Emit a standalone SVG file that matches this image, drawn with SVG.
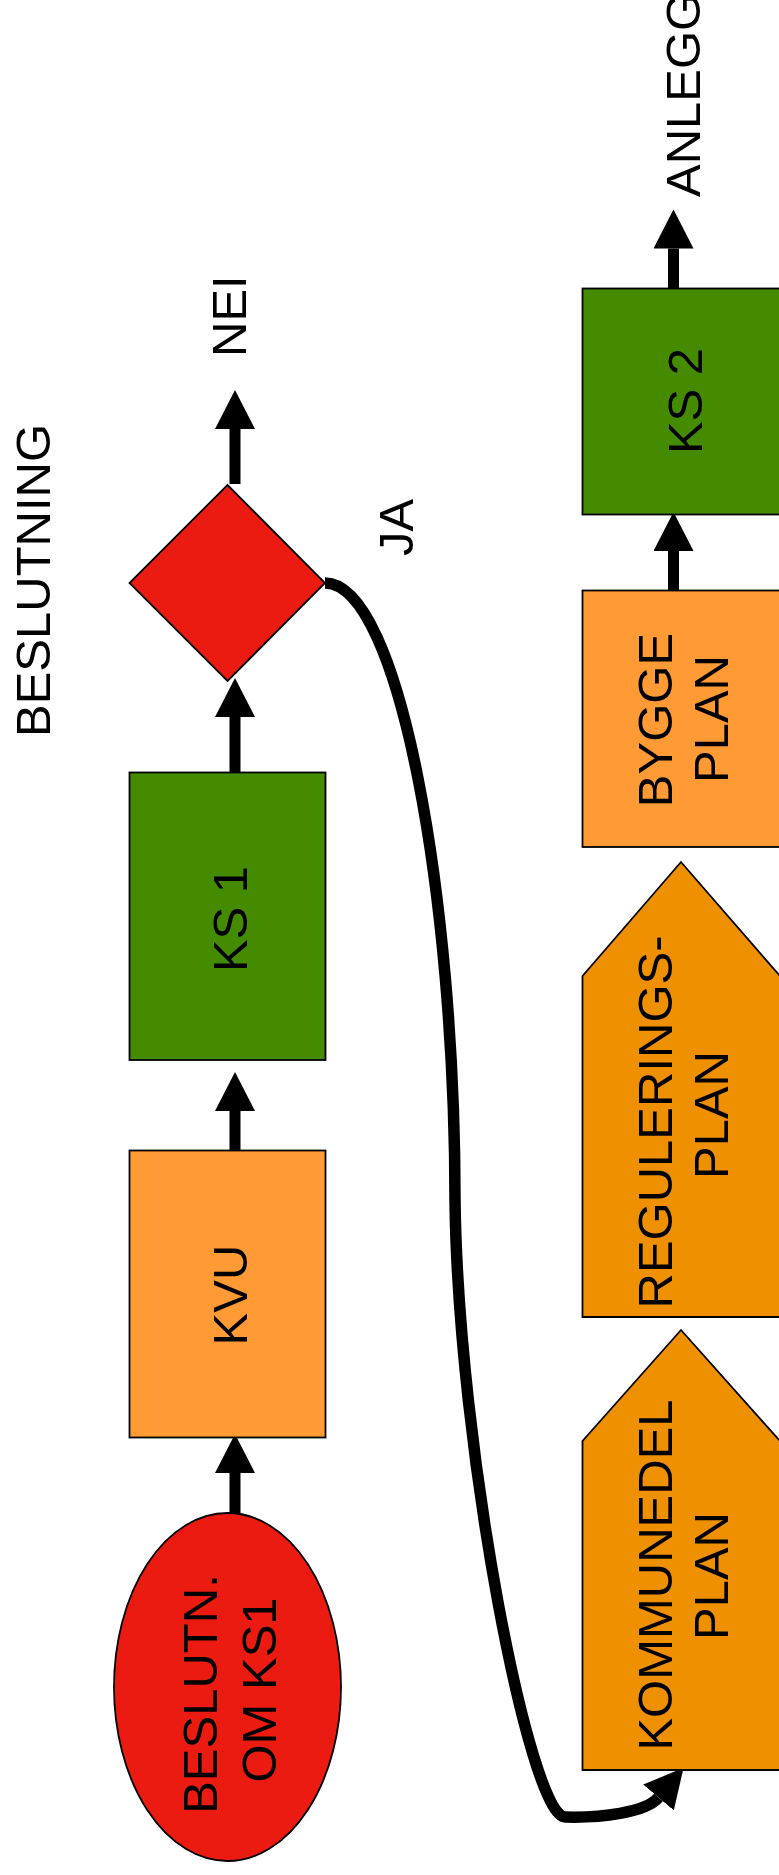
<svg xmlns="http://www.w3.org/2000/svg" width="779" height="1875" viewBox="0 0 779 1875">
<style>
.t{font-family:"Liberation Sans",Arial,sans-serif;font-size:49px;fill:#000}
.m{text-anchor:middle}
.box{stroke:#000;stroke-width:1.8}
.red{fill:#EC1B12}
.green{fill:#448B00}
.lor{fill:#FF9A35}
.dor{fill:#EF9000}
.shaft{fill:none;stroke:#000;stroke-width:11}
.curve{fill:none;stroke:#000;stroke-width:11.5}
</style>
<defs>
<marker id="ah" markerUnits="userSpaceOnUse" markerWidth="40" markerHeight="40" refX="0" refY="18" orient="auto" viewBox="0 0 36 36">
<path d="M0,0 L35,18 L0,36 Z" fill="#000"/>
</marker>
</defs>
<rect width="779" height="1875" fill="#fff"/>

<text class="t" transform="translate(50,737) rotate(-90)">BESLUTNING</text>
<text class="t" transform="translate(246,357) rotate(-90)">NEI</text>
<text class="t" transform="translate(413,556) rotate(-90)">JA</text>
<text class="t" transform="translate(700,197) rotate(-90)">ANLEGG</text>

<g id="connectors">
<path class="shaft" d="M235,1513 L235,1473" marker-end="url(#ah)"/>
<path class="shaft" d="M235,1150 L235,1111" marker-end="url(#ah)"/>
<path class="shaft" d="M235,772 L235,717" marker-end="url(#ah)"/>
<path class="shaft" d="M235,484 L235,429" marker-end="url(#ah)"/>
<path class="shaft" d="M673.5,590 L673.5,551" marker-end="url(#ah)"/>
<path class="shaft" d="M673.5,288 L673.5,248.5" marker-end="url(#ah)"/>
<path class="curve" d="M325,583 C400,583 455,900 455,1200 C458,1450 530,1817 565,1817 C600,1818 645.6,1812.8 658.5,1797.5" marker-end="url(#ah)"/>
</g>

<g id="n-beslutn">
<ellipse class="box red" cx="227.5" cy="1687" rx="113.5" ry="174"/>
<text class="t m" transform="translate(217,1694) rotate(-90)">BESLUTN.</text>
<text class="t m" transform="translate(276,1690) rotate(-90)">OM KS1</text>
</g>

<g id="n-kvu">
<rect class="box lor" x="129.5" y="1150.5" width="196" height="287"/>
<text class="t m" transform="translate(247,1295) rotate(-90)">KVU</text>
</g>

<g id="n-ks1">
<rect class="box green" x="129.5" y="772.5" width="196" height="287.5"/>
<text class="t m" transform="translate(247,919) rotate(-90)">KS 1</text>
</g>

<g id="n-decision">
<polygon class="box red" points="227.5,485 325,583 227.5,681 129.5,583"/>
</g>

<g id="n-kommunedel">
<polygon class="box dor" points="582.5,1770 582.5,1441 681,1330 780,1441 780,1770"/>
<text class="t m" transform="translate(672,1575) rotate(-90)">KOMMUNEDEL</text>
<text class="t m" transform="translate(728,1576) rotate(-90)">PLAN</text>
</g>

<g id="n-regulering">
<polygon class="box dor" points="582.5,1317 582.5,976 681,862 780,976 780,1317"/>
<text class="t m" transform="translate(672,1122) rotate(-90)">REGULERINGS-</text>
<text class="t m" transform="translate(728,1115) rotate(-90)">PLAN</text>
</g>

<g id="n-bygge">
<rect class="box lor" x="582.5" y="590.5" width="198" height="256.5"/>
<text class="t m" transform="translate(672,720) rotate(-90)">BYGGE</text>
<text class="t m" transform="translate(728,719) rotate(-90)">PLAN</text>
</g>

<g id="n-ks2">
<rect class="box green" x="582.5" y="288.5" width="198" height="226"/>
<text class="t m" transform="translate(702,401) rotate(-90)">KS 2</text>
</g>
</svg>
